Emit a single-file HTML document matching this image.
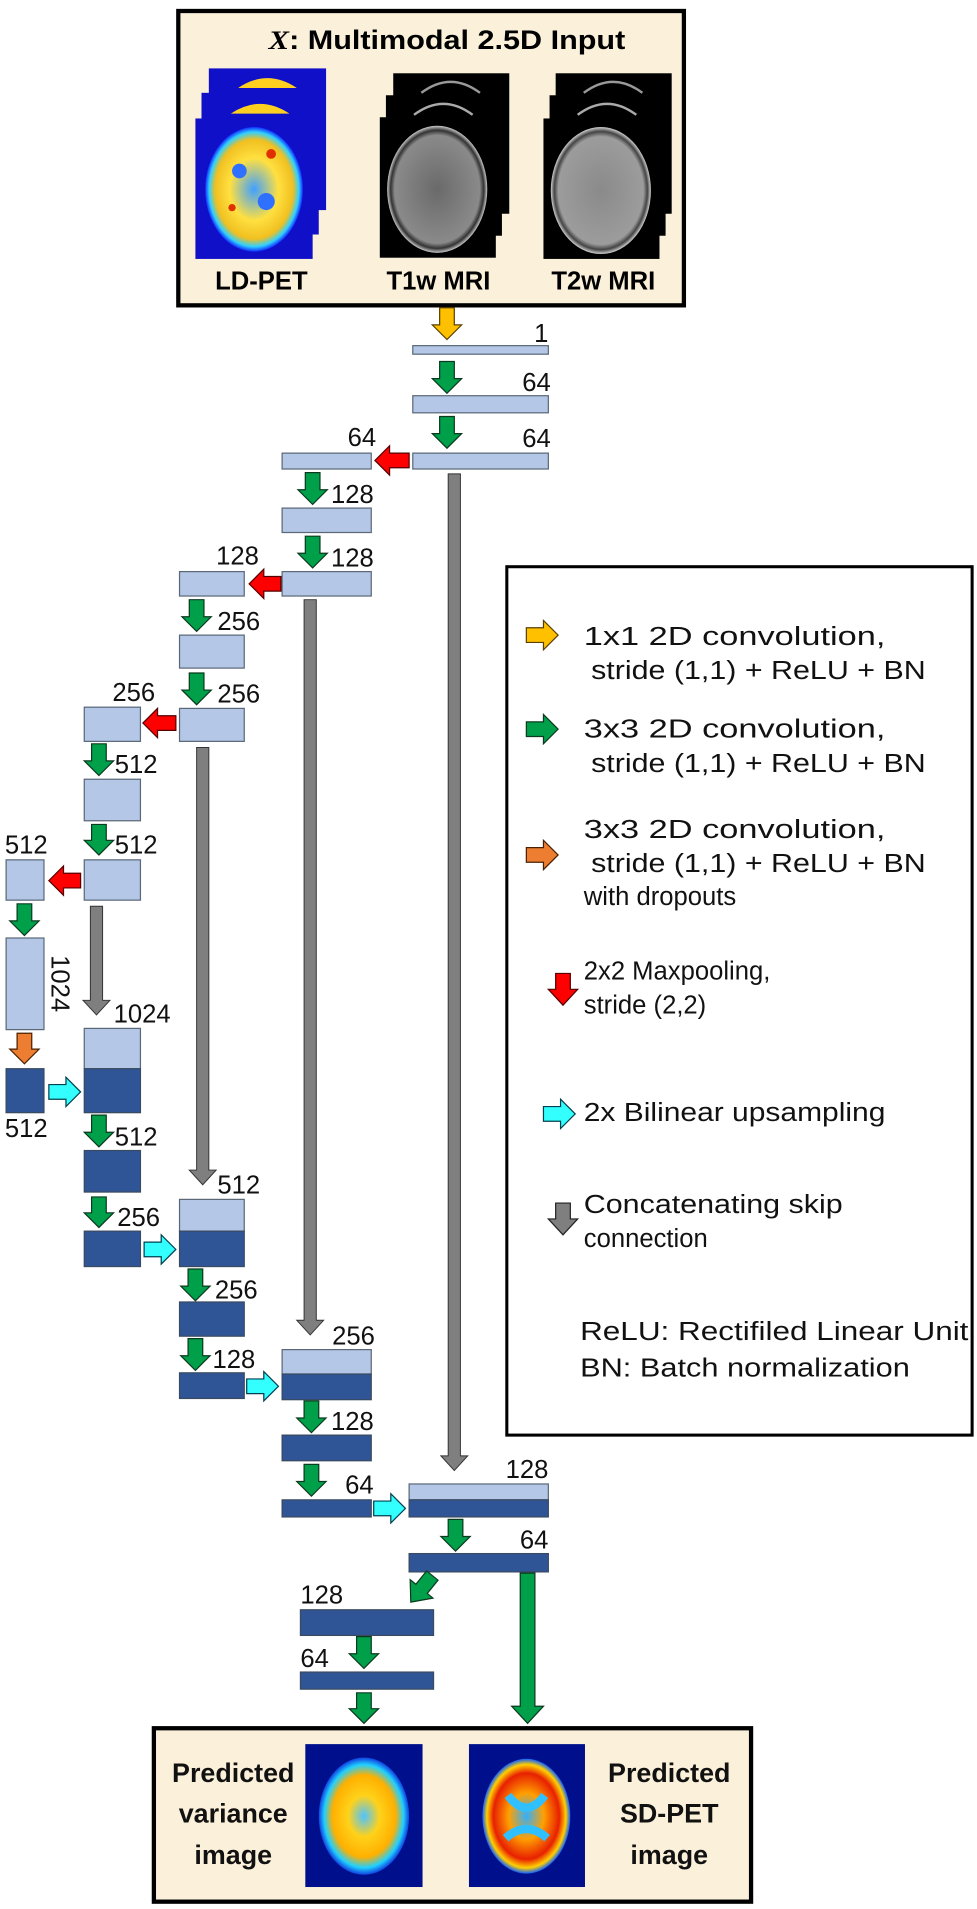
<!DOCTYPE html>
<html><head><meta charset="utf-8"><style>
html,body{margin:0;padding:0;background:#fff}
svg{display:block}
text{font-family:"Liberation Sans",Arial,sans-serif}
</style></head><body>
<svg width="977" height="1909" viewBox="0 0 800 1563" preserveAspectRatio="none" xmlns="http://www.w3.org/2000/svg">
<defs>
<radialGradient id="pet" cx="50%" cy="50%" r="50%">
<stop offset="0" stop-color="#4fc3ff"/><stop offset="0.35" stop-color="#ffd21a"/><stop offset="0.7" stop-color="#ffb000"/><stop offset="0.88" stop-color="#1fd0ff"/><stop offset="1" stop-color="#1040e0"/>
</radialGradient>
<radialGradient id="ld" cx="50%" cy="50%" r="50%">
<stop offset="0" stop-color="#40a0ff"/><stop offset="0.5" stop-color="#ffe040"/><stop offset="0.8" stop-color="#f0c020"/><stop offset="0.92" stop-color="#30d0ff"/><stop offset="1" stop-color="#1030ff"/>
</radialGradient>
<radialGradient id="sd" cx="50%" cy="50%" r="50%">
<stop offset="0" stop-color="#30b0ff"/><stop offset="0.4" stop-color="#ffa000"/><stop offset="0.75" stop-color="#e82000"/><stop offset="0.9" stop-color="#ffd000"/><stop offset="1" stop-color="#1060ff"/>
</radialGradient>
<radialGradient id="mri1" cx="50%" cy="50%" r="50%">
<stop offset="0" stop-color="#6a6a6a"/><stop offset="0.85" stop-color="#8a8a8a"/><stop offset="0.93" stop-color="#333"/><stop offset="1" stop-color="#c8c8c8"/>
</radialGradient>
<radialGradient id="mri2" cx="50%" cy="50%" r="50%">
<stop offset="0" stop-color="#8a8a8a"/><stop offset="0.85" stop-color="#9c9c9c"/><stop offset="0.93" stop-color="#444"/><stop offset="1" stop-color="#d0d0d0"/>
</radialGradient>
</defs>

<rect x="146" y="9" width="414" height="241" fill="#fbf0d9" stroke="#000" stroke-width="3.5"/>
<text x="366" y="40" font-size="22" font-weight="bold" text-anchor="middle" textLength="292" lengthAdjust="spacingAndGlyphs"><tspan font-family="Liberation Serif,serif" font-style="italic">X</tspan>: Multimodal 2.5D Input</text>
<rect x="171" y="56" width="96" height="116" fill="#1010c8"/>
<path d="M195 72 Q219 56 243 72 Z" fill="#ffd020"/>
<rect x="165" y="76" width="96" height="116" fill="#1010c8"/>
<path d="M189 93 Q213 77 237 93 Z" fill="#ffd020"/>
<rect x="160" y="97" width="96" height="115" fill="#1010c8"/>
<ellipse cx="208" cy="155" rx="40" ry="51" fill="url(#ld)"/>
<circle cx="196" cy="140" r="6" fill="#3070ff"/><circle cx="218" cy="165" r="7" fill="#3070ff"/><circle cx="222" cy="126" r="4" fill="#e03000"/><circle cx="190" cy="170" r="3" fill="#e03000"/>
<rect x="322" y="60" width="95" height="115" fill="#000"/>
<path d="M345 76 Q369 58 393 76" fill="none" stroke="#999" stroke-width="2"/>
<rect x="316" y="78" width="95" height="115" fill="#000"/>
<path d="M339 94 Q363 76 387 94" fill="none" stroke="#aaa" stroke-width="2"/>
<rect x="311" y="96" width="95" height="115" fill="#000"/>
<ellipse cx="358" cy="155" rx="41" ry="52" fill="url(#mri1)"/>
<rect x="455" y="60" width="95" height="115" fill="#000"/>
<path d="M478 76 Q502 58 526 76" fill="none" stroke="#999" stroke-width="2"/>
<rect x="450" y="78" width="95" height="115" fill="#000"/>
<path d="M473 94 Q497 76 521 94" fill="none" stroke="#aaa" stroke-width="2"/>
<rect x="445" y="97" width="95" height="115" fill="#000"/>
<ellipse cx="492" cy="156" rx="41" ry="52" fill="url(#mri2)"/>
<g font-size="21" font-weight="bold" text-anchor="middle">
<text x="214" y="237">LD-PET</text><text x="359" y="237">T1w MRI</text><text x="494" y="237">T2w MRI</text>
</g>

<rect x="415" y="464" width="381" height="711" fill="#fff" stroke="#000" stroke-width="2.5"/>

<g fill="#7f7f7f" stroke="#333" stroke-width="0.8">
<polygon points="367,388 377,388 377,1192 383,1192 372,1204 361,1192 367,1192"/>
<polygon points="249,491 259,491 259,1081 265,1081 254,1093 243,1081 249,1081"/>
<polygon points="161,612 171,612 171,958 177,958 166,970 155,958 161,958"/>
<polygon points="74,742 84,742 84,819 90,819 79,831 68,819 74,819"/>
</g>

<g fill="#b4c7e7" stroke="#5a6878" stroke-width="1">
<rect x="338" y="283" width="111" height="7"/>
<rect x="338" y="324" width="111" height="14"/>
<rect x="338" y="371" width="111" height="13"/>
<rect x="231" y="371" width="73" height="13"/>
<rect x="231" y="416" width="73" height="20"/>
<rect x="231" y="468" width="73" height="20"/>
<rect x="147" y="468" width="53" height="20"/>
<rect x="147" y="520" width="53" height="27"/>
<rect x="147" y="580" width="53" height="27"/>
<rect x="69" y="579" width="46" height="28"/>
<rect x="69" y="638" width="46" height="34"/>
<rect x="69" y="704" width="46" height="33"/>
<rect x="5" y="704" width="31" height="33"/>
<rect x="5" y="768" width="31" height="75"/>
<rect x="69" y="842" width="46" height="33"/>
<rect x="147" y="982" width="53" height="26"/>
<rect x="231" y="1105" width="73" height="20"/>
<rect x="335" y="1215" width="114" height="13"/>
</g>
<g fill="#2f5597" stroke="#3a4a60" stroke-width="1">
<rect x="69" y="875" width="46" height="36"/>
<rect x="147" y="1008" width="53" height="29"/>
<rect x="231" y="1125" width="73" height="21"/>
<rect x="335" y="1228" width="114" height="14"/>
<rect x="5" y="875" width="31" height="36"/>
<rect x="69" y="942" width="46" height="34"/>
<rect x="69" y="1008" width="46" height="29"/>
<rect x="147" y="1066" width="53" height="28"/>
<rect x="147" y="1124" width="53" height="21"/>
<rect x="231" y="1175" width="73" height="21"/>
<rect x="231" y="1228" width="73" height="14"/>
<rect x="335" y="1272" width="114" height="15"/>
<rect x="246" y="1318" width="109" height="21"/>
<rect x="246" y="1369" width="109" height="14"/>
</g>

<g fill="#00a04b" stroke="#0b3a1e" stroke-width="1">
<polygon points="360,296 372,296 372,310 378,310 366,322 354,310 360,310"/>
<polygon points="360,341 372,341 372,355 378,355 366,367 354,355 360,355"/>
<polygon points="250,387 262,387 262,401 268,401 256,413 244,401 250,401"/>
<polygon points="250,439 262,439 262,453 268,453 256,465 244,453 250,453"/>
<polygon points="155,491 167,491 167,505 173,505 161,517 149,505 155,505"/>
<polygon points="155,551 167,551 167,565 173,565 161,577 149,565 155,565"/>
<polygon points="75,609 87,609 87,623 93,623 81,635 69,623 75,623"/>
<polygon points="75,675 87,675 87,688 93,688 81,700 69,688 75,688"/>
<polygon points="14,740 26,740 26,754 32,754 20,766 8,754 14,754"/>
<polygon points="75,913 87,913 87,927 93,927 81,939 69,927 75,927"/>
<polygon points="75,980 87,980 87,993 93,993 81,1005 69,993 75,993"/>
<polygon points="154,1039 166,1039 166,1053 172,1053 160,1065 148,1053 154,1053"/>
<polygon points="154,1096 166,1096 166,1110 172,1110 160,1122 148,1110 154,1110"/>
<polygon points="249,1147 261,1147 261,1161 267,1161 255,1173 243,1161 249,1161"/>
<polygon points="249,1199 261,1199 261,1213 267,1213 255,1225 243,1213 249,1213"/>
<polygon points="367,1244 379,1244 379,1258 385,1258 373,1270 361,1258 367,1258"/>
<polygon points="292,1340 304,1340 304,1354 310,1354 298,1366 286,1354 292,1354"/>
<polygon points="292,1386 304,1386 304,1399 310,1399 298,1411 286,1399 292,1399"/>
<polygon points="426,1288 438,1288 438,1397 445,1397 432,1411 419,1397 426,1397"/>
<polygon transform="rotate(39 354 1290)" points="348,1290 360,1290 360,1304 366,1304 354,1318 342,1304 348,1304"/>
</g>
<polygon points="360,252 372,252 372,266 378,266 366,278 354,266 360,266" fill="#ffc000" stroke="#5a4000" stroke-width="1"/>
<polygon points="14,846 26,846 26,859 32,859 20,871 8,859 14,859" fill="#ed7d31" stroke="#4a2000" stroke-width="1"/>
<g fill="#ff0000" stroke="#500" stroke-width="1">
<polygon points="335,371 335,383 319,383 319,389 307,377 319,365 319,371"/>
<polygon points="230,472 230,484 216,484 216,490 204,478 216,466 216,472"/>
<polygon points="144,586 144,598 129,598 129,604 117,592 129,580 129,586"/>
<polygon points="66,715 66,727 52,727 52,733 40,721 52,709 52,715"/>
</g>
<g fill="#33ffff" stroke="#004050" stroke-width="1">
<polygon points="40,888 40,900 54,900 54,906 66,894 54,882 54,888"/>
<polygon points="118,1017 118,1029 132,1029 132,1035 144,1023 132,1011 132,1017"/>
<polygon points="202,1129 202,1141 216,1141 216,1147 228,1135 216,1123 216,1129"/>
<polygon points="306,1229 306,1241 320,1241 320,1247 332,1235 320,1223 320,1229"/>
</g>

<g font-size="21" fill="#111">
<text x="449" y="280" text-anchor="end">1</text>
<text x="451" y="320" text-anchor="end">64</text>
<text x="451" y="366" text-anchor="end">64</text>
<text x="308" y="365" text-anchor="end">64</text>
<text x="271" y="412">128</text>
<text x="271" y="464">128</text>
<text x="212" y="462" text-anchor="end">128</text>
<text x="178" y="516">256</text>
<text x="178" y="575">256</text>
<text x="92" y="574">256</text>
<text x="94" y="633">512</text>
<text x="94" y="699">512</text>
<text x="4" y="699">512</text>
<text transform="translate(42 782) rotate(90)">1024</text>
<text x="93" y="837">1024</text>
<text x="4" y="931">512</text>
<text x="94" y="938">512</text>
<text x="96" y="1004">256</text>
<text x="178" y="977">512</text>
<text x="176" y="1063">256</text>
<text x="174" y="1120">128</text>
<text x="272" y="1101">256</text>
<text x="271" y="1171">128</text>
<text x="306" y="1223" text-anchor="end">64</text>
<text x="449" y="1210" text-anchor="end">128</text>
<text x="449" y="1268" text-anchor="end">64</text>
<text x="246" y="1313">128</text>
<text x="246" y="1365">64</text>
</g>

<polygon points="431,514 445,514 445,508 457,520 445,532 445,526 431,526" fill="#ffc000" stroke="#5a4000"/>
<polygon points="431,591 445,591 445,585 457,597 445,609 445,603 431,603" fill="#00a04b" stroke="#0b3a1e"/>
<polygon points="431,694 445,694 445,688 457,700 445,712 445,706 431,706" fill="#ed7d31" stroke="#4a2000"/>
<polygon points="455,797 467,797 467,810 473,810 461,823 449,810 455,810" fill="#ff0000" stroke="#500"/>
<polygon points="445,906 459,906 459,900 471,912 459,924 459,918 445,918" fill="#33ffff" stroke="#004050"/>
<polygon points="455,985 467,985 467,998 473,998 461,1011 449,998 455,998" fill="#7f7f7f" stroke="#222"/>
<g font-size="21" fill="#111">
<text x="478" y="528" textLength="247" lengthAdjust="spacingAndGlyphs">1x1 2D convolution,</text>
<text x="484" y="556" textLength="274" lengthAdjust="spacingAndGlyphs">stride (1,1) + ReLU + BN</text>
<text x="478" y="604" textLength="247" lengthAdjust="spacingAndGlyphs">3x3 2D convolution,</text>
<text x="484" y="632" textLength="274" lengthAdjust="spacingAndGlyphs">stride (1,1) + ReLU + BN</text>
<text x="478" y="686" textLength="247" lengthAdjust="spacingAndGlyphs">3x3 2D convolution,</text>
<text x="484" y="714" textLength="274" lengthAdjust="spacingAndGlyphs">stride (1,1) + ReLU + BN</text>
<text x="478" y="741">with dropouts</text>
<text x="478" y="802">2x2 Maxpooling,</text>
<text x="478" y="830">stride (2,2)</text>
<text x="478" y="918" textLength="247" lengthAdjust="spacingAndGlyphs">2x Bilinear upsampling</text>
<text x="478" y="993" textLength="212" lengthAdjust="spacingAndGlyphs">Concatenating skip</text>
<text x="478" y="1021">connection</text>
<text x="475" y="1097" textLength="318" lengthAdjust="spacingAndGlyphs">ReLU: Rectifiled Linear Unit</text>
<text x="475" y="1127" textLength="270" lengthAdjust="spacingAndGlyphs">BN: Batch normalization</text>
</g>

<rect x="126" y="1415" width="489" height="142" fill="#fbf0d9" stroke="#000" stroke-width="3.5"/>
<rect x="250" y="1428" width="96" height="117" fill="#00108c"/>
<ellipse cx="298" cy="1487" rx="37" ry="48" fill="url(#pet)"/>
<rect x="384" y="1428" width="95" height="117" fill="#00108c"/>
<ellipse cx="431" cy="1487" rx="36" ry="47" fill="url(#sd)"/>
<path d="M416 1470 Q431 1490 446 1470 M414 1505 Q431 1490 448 1505" stroke="#30c0ff" stroke-width="7" fill="none"/>
<g font-size="22" font-weight="bold" text-anchor="middle" fill="#111">
<text x="191" y="1459">Predicted</text><text x="191" y="1492">variance</text><text x="191" y="1526">image</text>
<text x="548" y="1459">Predicted</text><text x="548" y="1492">SD-PET</text><text x="548" y="1526">image</text>
</g>
</svg>
</body></html>
